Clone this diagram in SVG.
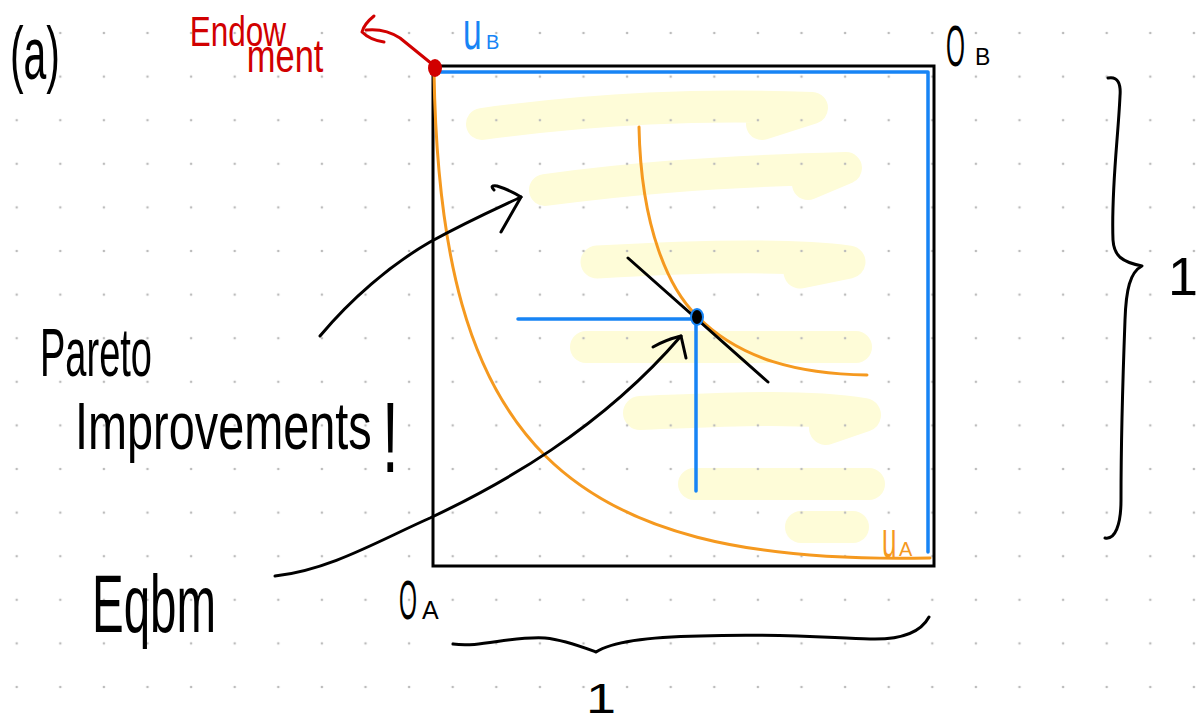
<svg xmlns="http://www.w3.org/2000/svg" width="1199" height="723" viewBox="0 0 1199 723">
<defs>
<pattern id="grid" patternUnits="userSpaceOnUse" x="-5.1" y="11.2" width="43.6" height="43.6">
<circle cx="21.8" cy="21.8" r="1.3" fill="#bcbcbc"/>
</pattern>
<style>
.hl{fill:none;stroke:#fefcd8;stroke-linecap:round;stroke-linejoin:round}
.ink{fill:none;stroke:#000;stroke-width:3;stroke-linecap:round;stroke-linejoin:round}
.blue{fill:none;stroke:#1784f5;stroke-width:3.5;stroke-linecap:round;stroke-linejoin:round}
.orange{fill:none;stroke:#f5991f;stroke-width:3;stroke-linecap:round}
.red{fill:none;stroke:#d10000;stroke-width:3;stroke-linecap:round;stroke-linejoin:round}
text{font-family:"Liberation Sans",Arial,sans-serif}
.t{fill:#000}
.tb{fill:#1784f5}
.to{fill:#f5991f}
.tr{fill:#d10000}
</style>
</defs>
<rect width="1199" height="723" fill="#fff"/>
<g id="highlights">
<path class="hl" stroke-width="32" d="M482,124 C600,108 700,104 812,108 L762,124"/>
<path class="hl" stroke-width="32" d="M545,190 C620,180 700,172 846,168 L808,184"/>
<path class="hl" stroke-width="33" d="M597,262 C700,256 790,254 849,262 L800,272"/>
<path class="hl" stroke-width="32" d="M586,347 L856,347"/>
<path class="hl" stroke-width="34" d="M640,413 C720,410 800,405 864,415 L826,428"/>
<path class="hl" stroke-width="32" d="M694,484 L869,484"/>
<path class="hl" stroke-width="32" d="M801,527 L853,527"/>
</g>
<rect width="1199" height="723" fill="url(#grid)"/>
<g id="edgeworth-box">
<rect x="433" y="66" width="501" height="500" fill="none" stroke="#000" stroke-width="3"/>
<path class="blue" d="M437,72 L928,72 L928,552"/>
</g>
<g id="indifference-curves">
<path class="orange" d="M434,72 C440,440 560,566 930,558"/>
<path class="orange" d="M639,127 C641,230 670,290 697,316 C740,360 800,374 867,375"/>
</g>
<g id="equilibrium">
<path class="ink" d="M628,258 L768,382"/>
<path class="blue" d="M518,319 L696,319 L696,491"/>
<ellipse cx="697" cy="317" rx="6" ry="8" fill="#000" stroke="#1784f5" stroke-width="2"/>
</g>
<g id="connectors">
<path class="ink" d="M320,336 C350,300 390,265 430,242 C470,220 500,207 521,197"/>
<path class="ink" d="M494,190 Q489,185 497,186 Q510,190 521,197 L501,232"/>
<path class="ink" d="M275,576 C330,570 380,540 430,518 C500,485 600,430 681,336"/>
<path class="ink" d="M653,347 Q665,340 681,336 L686,358"/>
<path class="red" d="M432,64 L400,38 Q385,28 366,30"/>
<path class="red" d="M374,16 Q364,24 362,32 Q370,40 384,42"/>
</g>
<g id="endowment">
<ellipse cx="435" cy="68" rx="7" ry="9" fill="#d10000"/>
<text class="tr" transform="scale(0.75,1)"><tspan x="253" y="46" font-size="42">Endow</tspan><tspan x="329" y="72" font-size="46">ment</tspan></text>
</g>
<g id="labels">
<text class="t" x="10" y="79" font-size="74" textLength="50" lengthAdjust="spacingAndGlyphs">(a)</text>
<text class="tb" transform="translate(463,49) scale(0.62,1)" font-size="54">u</text>
<text class="tb" x="486" y="49" font-size="20">B</text>
<text class="t" transform="translate(946,66) scale(0.42,1)" font-size="58">O</text>
<text class="t" x="975" y="65" font-size="23">B</text>
<text class="t" transform="translate(399,619) scale(0.42,1)" font-size="55">O</text>
<text class="t" x="422" y="619" font-size="25">A</text>
<text class="to" transform="translate(882,557) scale(0.5,1)" font-size="52">u</text>
<text class="to" x="899" y="556" font-size="20">A</text>
</g>
<g id="pareto-label">
<text class="t" x="40" y="376" font-size="68" textLength="112" lengthAdjust="spacingAndGlyphs">Pareto</text>
<text class="t" transform="translate(75,449) scale(0.71,1)" font-size="66">Improvements</text>
<text class="t" transform="translate(382,472) scale(0.6,1)" font-size="100">!</text>
</g>
<g id="eqbm-label">
<text class="t" x="92" y="632" font-size="82" textLength="124" lengthAdjust="spacingAndGlyphs">Eqbm</text>
</g>
<g id="braces">
<path class="ink" d="M453,644 C480,648 510,636 545,638 C565,640 585,648 596,652 C610,643 640,637 700,636 C780,633 830,638 870,639 C905,640 922,630 929,617"/>
<path class="ink" d="M1108,78 C1118,76 1121,84 1120,96 C1118,140 1111,190 1113,240 C1114,256 1122,262 1142,266 C1130,272 1126,290 1125,320 C1122,400 1121,460 1121,500 C1121,525 1115,540 1105,538"/>
<text class="t" x="586" y="713" font-size="42" textLength="30" lengthAdjust="spacingAndGlyphs">1</text>
<text class="t" x="1168" y="295" font-size="54" textLength="30" lengthAdjust="spacingAndGlyphs">1</text>
</g>
</svg>
